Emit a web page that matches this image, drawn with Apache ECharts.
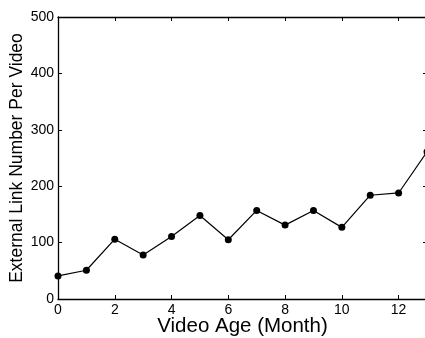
<!DOCTYPE html>
<html><head><meta charset="utf-8">
<script src="https://cdn.jsdelivr.net/npm/echarts@6/dist/echarts.min.js"></script>
<style>html,body{margin:0;padding:0;background:#fff}#c{width:425px;height:338px}</style>
</head><body><div id="c"></div>
<script>
var months = [0,1,2,3,4,5,6,7,8,9,10,11,12,13];
var linkCounts = [41,51,106,78,111,148,105,157,131,157,127,184,188,261];
var xTitle = 'Video Age (Month)';
var yTitle = 'External Link Number Per Video';

var data = months.map(function(m,i){return [m, linkCounts[i]];});
var chart = echarts.init(document.getElementById('c'), null, {renderer:'canvas'});
var font = 'Liberation Sans, Arial, Helvetica, sans-serif';
var lineStyle = {color:'#000', width:1.3};
chart.setOption({
  animation:false,
  grid:{left:58, right:-2, top:17, bottom:39, containLabel:false, outerBoundsMode:'none'},
  xAxis:[{
    type:'value', min:0, max:13, interval:2, position:'bottom',
    name:xTitle, nameLocation:'middle', nameGap:17, nameMoveOverlap:false,
    nameTextStyle:{fontFamily:font, fontSize:20.5, color:'#000'},
    axisLine:{show:true, onZero:false, lineStyle:lineStyle},
    axisTick:{show:true, inside:true, length:4, lineStyle:{color:'#000'}},
    axisLabel:{fontFamily:font, fontSize:14, color:'#000', margin:4, showMaxLabel:false},
    splitLine:{show:false}
  },{
    type:'value', min:0, max:13, interval:2, position:'top',
    axisLine:{show:true, onZero:false, lineStyle:lineStyle},
    axisTick:{show:true, inside:true, length:4, lineStyle:{color:'#000'}},
    axisLabel:{show:false}, splitLine:{show:false}
  }],
  yAxis:[{
    type:'value', min:0, max:500, interval:100, position:'left',
    name:yTitle, nameLocation:'middle', nameGap:32, nameMoveOverlap:false,
    nameTextStyle:{fontFamily:font, fontSize:17.5, color:'#000'},
    axisLine:{show:true, onZero:false, lineStyle:lineStyle},
    axisTick:{show:true, inside:true, length:4, lineStyle:{color:'#000'}},
    axisLabel:{fontFamily:font, fontSize:14, color:'#000', margin:4},
    splitLine:{show:false}
  },{
    type:'value', min:0, max:500, interval:100, position:'right',
    axisLine:{show:true, onZero:false, lineStyle:lineStyle},
    axisTick:{show:true, inside:true, length:4, lineStyle:{color:'#000'}},
    axisLabel:{show:false}, splitLine:{show:false}
  }],
  series:[{
    type:'line', data:data, xAxisIndex:0, yAxisIndex:0,
    symbol:'circle', symbolSize:7, clip:false,
    lineStyle:{color:'#000', width:1.2},
    itemStyle:{color:'#000'}
  }]
});
</script></body></html>
